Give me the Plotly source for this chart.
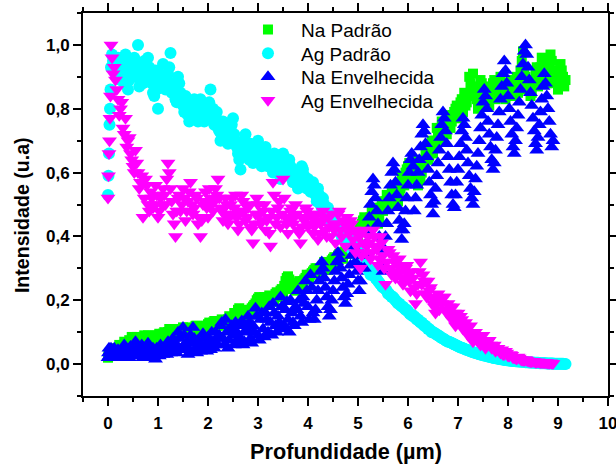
import plotly.graph_objects as go

FONT = "Liberation Sans, Arial, sans-serif"

# depth grid (µm)
DEPTH = [0.00, 0.01, 0.02, 0.03, 0.04, 0.05, 0.06, 0.08, 0.10,
         0.125, 0.15, 0.175, 0.2, 0.225, 0.25, 0.275, 0.3, 0.325, 0.35, 0.375, 0.4, 0.425, 0.45, 0.475, 0.5, 0.525, 0.55, 0.575, 0.6,
         0.625, 0.65, 0.675, 0.7, 0.725, 0.75, 0.775, 0.8, 0.825, 0.85, 0.875, 0.9, 0.925, 0.95, 0.975, 1.0, 1.025, 1.05, 1.075, 1.1,
         1.125, 1.15, 1.175, 1.2, 1.225, 1.25, 1.275, 1.3, 1.325, 1.35, 1.375, 1.4, 1.425, 1.45, 1.475, 1.5, 1.525, 1.55, 1.575, 1.6,
         1.625, 1.65, 1.675, 1.7, 1.725, 1.75, 1.775, 1.8, 1.825, 1.85, 1.875, 1.9, 1.925, 1.95, 1.975, 2.0, 2.025, 2.05, 2.075, 2.1,
         2.125, 2.15, 2.175, 2.2, 2.225, 2.25, 2.275, 2.3, 2.325, 2.35, 2.375, 2.4, 2.425, 2.45, 2.475, 2.5, 2.525, 2.55, 2.575, 2.6,
         2.625, 2.65, 2.675, 2.7, 2.725, 2.75, 2.775, 2.8, 2.825, 2.85, 2.875, 2.9, 2.925, 2.95, 2.975, 3.0, 3.025, 3.05, 3.075, 3.1,
         3.125, 3.15, 3.175, 3.2, 3.225, 3.25, 3.275, 3.3, 3.325, 3.35, 3.375, 3.4, 3.425, 3.45, 3.475, 3.5, 3.525, 3.55, 3.575, 3.6,
         3.625, 3.65, 3.675, 3.7, 3.725, 3.75, 3.775, 3.8, 3.825, 3.85, 3.875, 3.9, 3.925, 3.95, 3.975, 4.0, 4.025, 4.05, 4.075, 4.1,
         4.125, 4.15, 4.175, 4.2, 4.225, 4.25, 4.275, 4.3, 4.325, 4.35, 4.375, 4.4, 4.425, 4.45, 4.475, 4.5, 4.525, 4.55, 4.575, 4.6,
         4.625, 4.65, 4.675, 4.7, 4.725, 4.75, 4.775, 4.8, 4.825, 4.85, 4.875, 4.9, 4.925, 4.95, 4.975, 5.0, 5.025, 5.05, 5.075, 5.1,
         5.125, 5.15, 5.175, 5.2, 5.225, 5.25, 5.275, 5.3, 5.325, 5.35, 5.375, 5.4, 5.425, 5.45, 5.475, 5.5, 5.525, 5.55, 5.575, 5.6,
         5.625, 5.65, 5.675, 5.7, 5.725, 5.75, 5.775, 5.8, 5.825, 5.85, 5.875, 5.9, 5.925, 5.95, 5.975, 6.0, 6.025, 6.05, 6.075, 6.1,
         6.125, 6.15, 6.175, 6.2, 6.225, 6.25, 6.275, 6.3, 6.325, 6.35, 6.375, 6.4, 6.425, 6.45, 6.475, 6.5, 6.525, 6.55, 6.575, 6.6,
         6.625, 6.65, 6.675, 6.7, 6.725, 6.75, 6.775, 6.8, 6.825, 6.85, 6.875, 6.9, 6.925, 6.95, 6.975, 7.0, 7.025, 7.05, 7.075, 7.1,
         7.125, 7.15, 7.175, 7.2, 7.225, 7.25, 7.275, 7.3, 7.325, 7.35, 7.375, 7.4, 7.425, 7.45, 7.475, 7.5, 7.525, 7.55, 7.575, 7.6,
         7.625, 7.65, 7.675, 7.7, 7.725, 7.75, 7.775, 7.8, 7.825, 7.85, 7.875, 7.9, 7.925, 7.95, 7.975, 8.0, 8.025, 8.05, 8.075, 8.1,
         8.125, 8.15, 8.175, 8.2, 8.225, 8.25, 8.275, 8.3, 8.325, 8.35, 8.375, 8.4, 8.425, 8.45, 8.475, 8.5, 8.525, 8.55, 8.575, 8.6,
         8.625, 8.65, 8.675, 8.7, 8.725, 8.75, 8.775, 8.8, 8.825, 8.85, 8.875, 8.9, 8.925, 8.95, 8.975, 9.0, 9.025, 9.05, 9.075, 9.1,
         9.125, 9.15]

NA_PADRAO = [0.02, 0.025, 0.03, 0.028, 0.035, 0.03, 0.04, 0.035, 0.045,
             0.05, 0.04, 0.035, 0.05, 0.06, 0.045, 0.05, 0.06, 0.07, 0.055, 0.06, 0.065, 0.075, 0.07, 0.085, 0.06, 0.065, 0.08, 0.085, 0.075,
             0.08, 0.07, 0.065, 0.085, 0.09, 0.08, 0.075, 0.09, 0.085, 0.075, 0.08, 0.085, 0.09, 0.07, 0.075, 0.09, 0.095, 0.08, 0.085, 0.095,
             0.10, 0.09, 0.085, 0.10, 0.11, 0.085, 0.095, 0.11, 0.10, 0.095, 0.09, 0.105, 0.11, 0.10, 0.10, 0.115, 0.105, 0.09, 0.095, 0.11,
             0.115, 0.105, 0.11, 0.10, 0.10, 0.12, 0.12, 0.11, 0.105, 0.115, 0.115, 0.10, 0.11, 0.12, 0.12, 0.125, 0.13, 0.11, 0.12, 0.13,
             0.135, 0.125, 0.12, 0.13, 0.13, 0.12, 0.14, 0.135, 0.125, 0.13, 0.135, 0.14, 0.15, 0.145, 0.14, 0.135, 0.16, 0.15, 0.155, 0.17,
             0.175, 0.16, 0.15, 0.155, 0.16, 0.165, 0.17, 0.15, 0.16, 0.17, 0.175, 0.18, 0.185, 0.19, 0.20, 0.205, 0.21, 0.20, 0.195, 0.19,
             0.21, 0.205, 0.195, 0.20, 0.215, 0.21, 0.205, 0.195, 0.20, 0.22, 0.225, 0.21, 0.215, 0.23, 0.235, 0.22, 0.245, 0.26, 0.27, 0.275,
             0.265, 0.25, 0.235, 0.24, 0.25, 0.23, 0.24, 0.255, 0.26, 0.245, 0.25, 0.26, 0.265, 0.27, 0.28, 0.265, 0.27, 0.28, 0.285, 0.29,
             0.295, 0.30, 0.30, 0.285, 0.29, 0.28, 0.29, 0.30, 0.32, 0.31, 0.30, 0.295, 0.31, 0.32, 0.325, 0.33, 0.335, 0.31, 0.32, 0.34,
             0.345, 0.35, 0.34, 0.33, 0.35, 0.36, 0.37, 0.345, 0.355, 0.37, 0.39, 0.38, 0.375, 0.36, 0.385, 0.40, 0.42, 0.43, 0.44, 0.45,
             0.46, 0.44, 0.43, 0.42, 0.44, 0.46, 0.48, 0.45, 0.46, 0.47, 0.49, 0.44, 0.46, 0.49, 0.51, 0.48, 0.49, 0.51, 0.53, 0.50,
             0.51, 0.52, 0.54, 0.50, 0.52, 0.53, 0.56, 0.51, 0.53, 0.55, 0.59, 0.57, 0.56, 0.60, 0.61, 0.62, 0.63, 0.58, 0.60, 0.64,
             0.62, 0.60, 0.58, 0.56, 0.61, 0.58, 0.60, 0.62, 0.64, 0.66, 0.67, 0.64, 0.65, 0.68, 0.70, 0.66, 0.68, 0.70, 0.74, 0.72,
             0.70, 0.74, 0.76, 0.71, 0.75, 0.73, 0.72, 0.76, 0.78, 0.74, 0.76, 0.78, 0.79, 0.80, 0.81, 0.77, 0.78, 0.82, 0.83, 0.79,
             0.85, 0.81, 0.82, 0.84, 0.90, 0.88, 0.87, 0.91, 0.84, 0.86, 0.83, 0.80, 0.86, 0.89, 0.88, 0.85, 0.84, 0.87, 0.86, 0.82,
             0.81, 0.84, 0.85, 0.88, 0.89, 0.83, 0.84, 0.86, 0.87, 0.90, 0.88, 0.85, 0.86, 0.83, 0.84, 0.87, 0.86, 0.89, 0.88, 0.84,
             0.86, 0.88, 0.90, 0.85, 0.88, 0.92, 0.95, 0.98, 0.93, 0.90, 0.88, 0.86, 0.87, 0.84, 0.85, 0.88, 0.89, 0.91, 0.93, 0.87,
             0.90, 0.93, 0.96, 0.89, 0.92, 0.95, 0.88, 0.91, 0.93, 0.97, 0.95, 0.88, 0.89, 0.92, 0.91, 0.86, 0.88, 0.94, 0.92, 0.90,
             0.87, 0.89]

AG_PADRAO = [0.53, 0.59, 0.66, 0.75, 0.80, 0.86, 0.93, 0.97, 0.95,
             0.94, 0.91, 0.92, 0.96, 0.95, 0.89, 0.90, 0.93, 0.88, 0.97, 0.94, 0.86, 0.89, 0.92, 0.91, 0.95, 0.96, 0.90, 0.93, 1.00,
             0.87, 0.94, 0.91, 0.88, 0.95, 0.93, 0.89, 0.96, 0.93, 0.90, 0.88, 0.85, 0.84, 0.92, 0.86, 0.80, 0.91, 0.89, 0.87, 0.94,
             0.90, 0.86, 0.88, 0.91, 0.93, 0.975, 0.85, 0.88, 0.87, 0.83, 0.82, 0.90, 0.88, 0.85, 0.83, 0.81, 0.79, 0.84, 0.81, 0.78,
             0.76, 0.82, 0.80, 0.77, 0.83, 0.80, 0.78, 0.76, 0.80, 0.83, 0.82, 0.79, 0.76, 0.81, 0.79, 0.77, 0.82, 0.86, 0.77, 0.80,
             0.75, 0.78, 0.79, 0.74, 0.73, 0.70, 0.72, 0.76, 0.75, 0.72, 0.71, 0.69, 0.73, 0.74, 0.75, 0.77, 0.72, 0.70, 0.68, 0.66,
             0.64, 0.61, 0.66, 0.68, 0.70, 0.72, 0.67, 0.65, 0.64, 0.69, 0.68, 0.63, 0.65, 0.67, 0.68, 0.70, 0.66, 0.64, 0.62, 0.66,
             0.65, 0.68, 0.66, 0.62, 0.63, 0.65, 0.62, 0.60, 0.66, 0.64, 0.63, 0.61, 0.60, 0.58, 0.62, 0.66, 0.65, 0.63, 0.61, 0.59,
             0.64, 0.62, 0.60, 0.57, 0.58, 0.60, 0.58, 0.55, 0.57, 0.59, 0.62, 0.61, 0.59, 0.56, 0.55, 0.58, 0.56, 0.54, 0.55, 0.57,
             0.55, 0.53, 0.51, 0.55, 0.53, 0.50, 0.49, 0.52, 0.50, 0.47, 0.48, 0.49, 0.47, 0.45, 0.44, 0.46, 0.45, 0.43, 0.42, 0.44,
             0.43, 0.41, 0.40, 0.42, 0.41, 0.39, 0.38, 0.40, 0.39, 0.37, 0.36, 0.38, 0.37, 0.35, 0.34, 0.36, 0.35, 0.33, 0.32, 0.34,
             0.32, 0.31, 0.305, 0.30, 0.29, 0.28, 0.285, 0.29, 0.275, 0.27, 0.265, 0.26, 0.255, 0.25, 0.245, 0.24, 0.24, 0.235, 0.23, 0.22,
             0.22, 0.215, 0.21, 0.21, 0.205, 0.20, 0.195, 0.19, 0.19, 0.185, 0.18, 0.18, 0.175, 0.17, 0.17, 0.165, 0.16, 0.155, 0.155, 0.15,
             0.15, 0.145, 0.14, 0.14, 0.135, 0.13, 0.13, 0.125, 0.12, 0.12, 0.115, 0.11, 0.11, 0.105, 0.10, 0.10, 0.098, 0.095, 0.092, 0.09,
             0.088, 0.085, 0.082, 0.08, 0.078, 0.075, 0.072, 0.07, 0.07, 0.068, 0.066, 0.064, 0.062, 0.06, 0.058, 0.056, 0.054, 0.052, 0.051, 0.05,
             0.048, 0.046, 0.045, 0.043, 0.042, 0.04, 0.039, 0.037, 0.036, 0.035, 0.034, 0.032, 0.031, 0.03, 0.029, 0.028, 0.027, 0.026, 0.025, 0.024,
             0.023, 0.022, 0.021, 0.02, 0.019, 0.018, 0.018, 0.017, 0.016, 0.015, 0.015, 0.014, 0.013, 0.013, 0.012, 0.012, 0.011, 0.011, 0.01, 0.01,
             0.01, 0.009, 0.009, 0.008, 0.008, 0.008, 0.007, 0.007, 0.007, 0.006, 0.006, 0.006, 0.005, 0.005, 0.005, 0.005, 0.004, 0.004, 0.004, 0.004,
             0.003, 0.003, 0.003, 0.003, 0.003, 0.003, 0.002, 0.002, 0.002, 0.002, 0.002, 0.002, 0.001, 0.001, 0.001, 0.001, 0.001, 0.001, 0.001, 0.001,
             0.0, 0.0]

NA_ENVELHECIDA = [0.02, 0.035, 0.05, 0.025, 0.04, 0.03, 0.05, 0.02, 0.035,
                  0.05, 0.03, 0.02, 0.045, 0.035, 0.02, 0.03, 0.05, 0.06, 0.035, 0.04, 0.025, 0.02, 0.055, 0.035, 0.04, 0.025, 0.07, 0.05, 0.03,
                  0.035, 0.05, 0.06, 0.02, 0.025, 0.045, 0.035, 0.065, 0.055, 0.03, 0.02, 0.05, 0.035, 0.015, 0.05, 0.04, 0.025, 0.06, 0.045, 0.03,
                  0.04, 0.05, 0.03, 0.07, 0.06, 0.035, 0.045, 0.08, 0.07, 0.055, 0.035, 0.10, 0.08, 0.045, 0.05, 0.115, 0.09, 0.06, 0.07, 0.03,
                  0.045, 0.09, 0.065, 0.115, 0.08, 0.05, 0.035, 0.075, 0.06, 0.04, 0.05, 0.095, 0.08, 0.06, 0.04, 0.085, 0.07, 0.045, 0.10, 0.07,
                  0.05, 0.10, 0.08, 0.06, 0.09, 0.12, 0.13, 0.08, 0.06, 0.14, 0.10, 0.05, 0.075, 0.11, 0.12, 0.09, 0.06, 0.13, 0.10, 0.07,
                  0.085, 0.12, 0.135, 0.06, 0.07, 0.10, 0.11, 0.15, 0.13, 0.08, 0.065, 0.12, 0.10, 0.175, 0.15, 0.09, 0.075, 0.14, 0.16, 0.11,
                  0.085, 0.16, 0.14, 0.10, 0.18, 0.13, 0.09, 0.19, 0.16, 0.12, 0.10, 0.15, 0.13, 0.21, 0.18, 0.11, 0.12, 0.17, 0.195, 0.14,
                  0.10, 0.20, 0.16, 0.13, 0.12, 0.18, 0.17, 0.23, 0.20, 0.15, 0.13, 0.21, 0.19, 0.26, 0.23, 0.18, 0.14, 0.28, 0.24, 0.16,
                  0.14, 0.17, 0.20, 0.23, 0.26, 0.29, 0.32, 0.30, 0.27, 0.24, 0.21, 0.18, 0.15,
                  0.17, 0.20, 0.23, 0.26, 0.29, 0.32, 0.35, 0.33, 0.30, 0.27, 0.24, 0.21, 0.19,
                  0.22, 0.25, 0.28, 0.31, 0.34, 0.37, 0.35, 0.32, 0.29, 0.26, 0.23, 0.26, 0.30, 0.34,
                  0.30, 0.34, 0.38, 0.42, 0.46, 0.50, 0.54, 0.58, 0.56, 0.52, 0.48, 0.44, 0.40, 0.36, 0.32, 0.29,
                  0.36, 0.40, 0.44, 0.48, 0.52, 0.56, 0.60, 0.63, 0.61, 0.57, 0.53, 0.49, 0.45, 0.42, 0.39, 0.42,
                  0.44, 0.48, 0.52, 0.56, 0.60, 0.64, 0.66, 0.62,
                  0.48, 0.52, 0.56, 0.60, 0.64, 0.68, 0.72, 0.75, 0.73, 0.69, 0.65, 0.61, 0.57, 0.53, 0.50, 0.47,
                  0.51, 0.55, 0.59, 0.63, 0.67, 0.71, 0.75, 0.79, 0.77, 0.73, 0.69, 0.65, 0.61, 0.57, 0.53, 0.50,
                  0.49, 0.53, 0.57, 0.61, 0.65, 0.69, 0.73, 0.77,
                  0.75, 0.71, 0.67, 0.63, 0.59, 0.55, 0.52, 0.50,
                  0.54, 0.58, 0.62, 0.66, 0.70, 0.74, 0.78, 0.82, 0.86,
                  0.84, 0.80, 0.76, 0.72, 0.68, 0.64, 0.61,
                  0.63, 0.67, 0.71, 0.75, 0.79, 0.83, 0.87, 0.91, 0.95,
                  0.92, 0.88, 0.84, 0.80, 0.76, 0.72, 0.68,
                  0.66, 0.70, 0.74, 0.78, 0.82, 0.86, 0.90, 0.94, 0.98, 1.0,
                  0.97, 0.93, 0.89, 0.85, 0.81, 0.77, 0.73, 0.69,
                  0.67, 0.71, 0.75, 0.79, 0.83, 0.87, 0.91,
                  0.88, 0.84, 0.80, 0.76, 0.72, 0.68, 0.70]

AG_ENVELHECIDA = [0.52, 0.59, 0.66, 0.70, 0.77, 0.84, 1.00, 0.96, 0.91,
                  0.93, 0.89, 0.86, 0.83, 0.78, 0.80, 0.82, 0.74, 0.72, 0.77, 0.68, 0.70, 0.71, 0.66, 0.64, 0.62, 0.60, 0.67, 0.63, 0.60,
                  0.55, 0.57, 0.59, 0.46, 0.52, 0.58, 0.56, 0.50, 0.48, 0.54, 0.52, 0.49, 0.50, 0.56, 0.53, 0.46, 0.48, 0.52, 0.50, 0.55,
                  0.53, 0.50, 0.58, 0.63, 0.60, 0.55, 0.51, 0.47, 0.44, 0.40, 0.48, 0.52, 0.53, 0.48, 0.50, 0.55, 0.52, 0.45, 0.48, 0.51,
                  0.54, 0.57, 0.50, 0.47, 0.49, 0.53, 0.52, 0.44, 0.46, 0.40, 0.45, 0.50, 0.51, 0.54, 0.49, 0.46, 0.55, 0.52, 0.50, 0.48,
                  0.51, 0.55, 0.53, 0.58, 0.52, 0.49, 0.48, 0.45, 0.47, 0.52, 0.50, 0.44, 0.46, 0.50, 0.52, 0.47, 0.49, 0.53, 0.46, 0.42,
                  0.44, 0.48, 0.53, 0.51, 0.48, 0.45, 0.46, 0.49, 0.50, 0.43, 0.42, 0.38, 0.44, 0.47, 0.52, 0.50, 0.47, 0.44, 0.45, 0.48,
                  0.50, 0.42, 0.45, 0.46, 0.41, 0.37, 0.48, 0.57, 0.53, 0.44, 0.46, 0.49, 0.51, 0.43, 0.47, 0.58, 0.52, 0.46, 0.44, 0.41,
                  0.45, 0.48, 0.49, 0.44, 0.46, 0.50, 0.47, 0.42, 0.41, 0.38, 0.43, 0.46, 0.45, 0.49, 0.48, 0.43, 0.44, 0.47, 0.46, 0.41,
                  0.43, 0.45, 0.47, 0.39, 0.41, 0.44, 0.45, 0.48, 0.46, 0.42, 0.40, 0.46, 0.43, 0.40, 0.47, 0.44, 0.42, 0.38, 0.44, 0.47,
                  0.48, 0.42, 0.40, 0.45, 0.44, 0.37, 0.46, 0.43, 0.41, 0.45, 0.44, 0.39, 0.42, 0.35, 0.37, 0.41, 0.40, 0.30, 0.34, 0.38,
                  0.42, 0.35, 0.37, 0.40, 0.38, 0.33, 0.35, 0.42, 0.40, 0.37, 0.36, 0.31, 0.33, 0.40, 0.38, 0.34, 0.30, 0.25, 0.32, 0.36,
                  0.35, 0.30, 0.28, 0.34, 0.32, 0.27, 0.29, 0.31, 0.33, 0.29, 0.27, 0.25, 0.26, 0.30, 0.31, 0.28, 0.26, 0.23, 0.29, 0.27,
                  0.24, 0.19, 0.22, 0.25, 0.29, 0.32, 0.25, 0.28, 0.26, 0.22, 0.21, 0.26, 0.23, 0.24, 0.21, 0.19, 0.18, 0.16, 0.20, 0.22,
                  0.17, 0.20, 0.19, 0.21, 0.21, 0.17, 0.16, 0.19, 0.18, 0.15, 0.14, 0.18, 0.16, 0.12, 0.14, 0.16, 0.13, 0.15, 0.14, 0.11,
                  0.12, 0.13, 0.11, 0.09, 0.10, 0.12, 0.09, 0.07, 0.08, 0.10, 0.075, 0.08, 0.085, 0.06, 0.07, 0.09, 0.065, 0.05, 0.06, 0.07,
                  0.075, 0.06, 0.05, 0.055, 0.06, 0.04, 0.045, 0.05, 0.04, 0.035, 0.045, 0.03, 0.03, 0.04, 0.035, 0.025, 0.025, 0.03, 0.028, 0.02,
                  0.02, 0.018, 0.016, 0.022, 0.019, 0.015, 0.013, 0.012, 0.011, 0.014, 0.012, 0.010, 0.009, 0.008, 0.007, 0.009,
                  0.008, 0.006, 0.006, 0.007, 0.006, 0.005, 0.005, 0.004, 0.004, 0.005, 0.004, 0.003, 0.003, 0.004, 0.003, 0.002]

X_TICKS = [0, 1, 2, 3, 4, 5, 6, 7, 8, 9, 10]
X_TICKTEXT = ["0", "1", "2", "3", "4", "5", "6", "7", "8", "9", "10"]
Y_TICKS = [0.0, 0.2, 0.4, 0.6, 0.8, 1.0]
Y_TICKTEXT = ["0,0", "0,2", "0,4", "0,6", "0,8", "1,0"]

SERIES = [
    ("Na Padrão", NA_PADRAO, "#00FF00", "square", 10, "legend"),
    ("Ag Padrão", AG_PADRAO, "#00FFFF", "circle", 12, "legend2"),
    ("Na Envelhecida", NA_ENVELHECIDA, "#0000FF", "triangle-up", 13, "legend3"),
    ("Ag Envelhecida", AG_ENVELHECIDA, "#FF00FF", "triangle-down", 13, "legend4"),
]

fig = go.Figure()
for name, vals, color, symbol, size, leg in SERIES:
    fig.add_trace(go.Scatter(
        x=DEPTH[:len(vals)], y=vals, mode="markers", name=name, legend=leg,
        marker=dict(color=color, symbol=symbol, size=size, line=dict(width=0)),
    ))

axis_common = dict(
    showline=True, linecolor="black", linewidth=2, mirror="allticks",
    ticks="outside", ticklen=8, tickwidth=2, tickcolor="black",
    showgrid=False, zeroline=False, automargin=False, ticklabeloverflow="allow",
    tickfont=dict(family=FONT, size=17, color="black", weight="bold"),
    minor=dict(ticks="outside", ticklen=4, tickwidth=2, tickcolor="black", showgrid=False),
)

fig.update_xaxes(range=[-0.5, 10], tickmode="array", tickvals=X_TICKS, ticktext=X_TICKTEXT,
                 ticklabelstandoff=3, **axis_common)
fig.update_xaxes(minor_dtick=0.5, minor_tick0=0)
fig.update_yaxes(range=[-0.1, 1.1], tickmode="array", tickvals=Y_TICKS, ticktext=Y_TICKTEXT,
                 **axis_common)
fig.update_yaxes(minor_dtick=0.1, minor_tick0=0)

leg_common = dict(xanchor="left", yanchor="middle", font=dict(family=FONT, size=19, color="black"),
                  bgcolor="rgba(0,0,0,0)", borderwidth=0, itemwidth=56)
LEG_X = 0.2895
fig.update_layout(
    width=616, height=466,
    margin=dict(l=83, r=8, t=13, b=70),
    paper_bgcolor="white", plot_bgcolor="white",
    font=dict(family=FONT, color="black"),
    showlegend=True,
    legend=dict(x=LEG_X, y=0.9564, **leg_common),
    legend2=dict(x=LEG_X, y=0.8948, **leg_common),
    legend3=dict(x=LEG_X, y=0.8329, **leg_common),
    legend4=dict(x=LEG_X, y=0.7715, **leg_common),
    annotations=[
        dict(text="Profundidade (µm)", xref="paper", yref="paper", x=0.5, y=-0.146,
             xanchor="center", yanchor="middle", showarrow=False,
             font=dict(family=FONT, size=21.7, color="black", weight="bold")),
        dict(text="Intensidade (u.a)", xref="paper", yref="paper", x=-0.116, y=0.4726,
             xanchor="center", yanchor="middle", showarrow=False, textangle=-90,
             font=dict(family=FONT, size=19.6, color="black", weight="bold")),
    ],
)

fig.write_html("out.html")
